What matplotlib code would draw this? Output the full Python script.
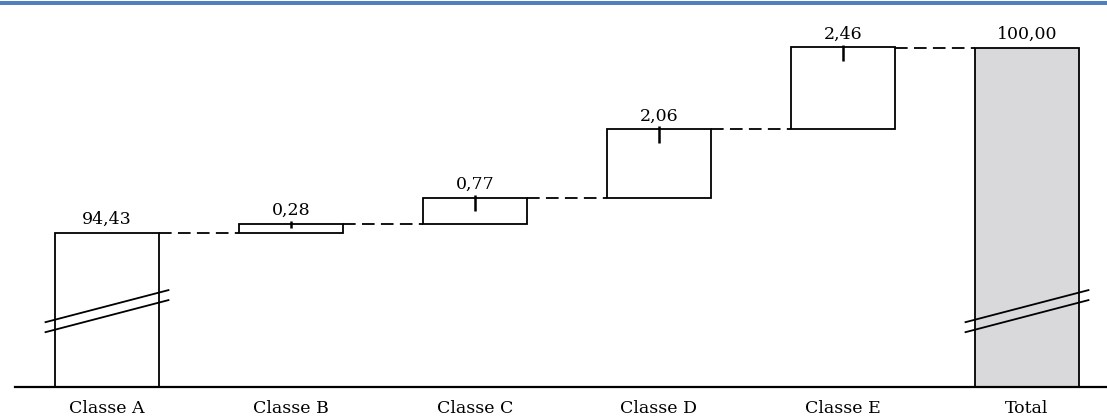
import matplotlib
matplotlib.use("Agg")
import matplotlib.pyplot as plt
import numpy as np

categories = ["Classe A", "Classe B", "Classe C", "Classe D", "Classe E", "Total"]
steps = [94.43, 0.28, 0.77, 2.06, 2.46]
total = 100.00

plt.rcParams["font.family"] = ["DejaVu Serif"]

W, H = 1107, 418
fig = plt.figure(figsize=(W / 100, H / 100), dpi=100)

# axes geometry in pixels
ax_left, ax_right = 15, 1107
ax_bottom, ax_top = 387, 10
ax = fig.add_axes([ax_left / W, (H - ax_bottom) / H,
                   (ax_right - ax_left) / W, (ax_bottom - ax_top) / H])

x = np.arange(len(categories))
width = 0.56
edge_lw = 1.3

# cumulative levels
ends = np.cumsum(steps)
starts = np.concatenate([[0.0], ends[:-1]])

# first class and total drawn from zero (clipped by the broken axis)
ax.bar(x[0], steps[0], width=width, color="white", edgecolor="black", linewidth=edge_lw, zorder=2)
ax.bar(x[-1], total, width=width, color="#d9d9db", edgecolor="black", linewidth=edge_lw, zorder=2)

# floating increments
for i in range(1, len(steps)):
    ax.bar(x[i], steps[i], bottom=starts[i], width=width, color="white",
           edgecolor="black", linewidth=edge_lw, zorder=2)
    # centre tick on top of each increment, never past the middle of the box
    tick_end = max(ends[i] - 0.42, ends[i] - steps[i] / 2)
    ax.plot([x[i], x[i]], [ends[i] + 0.09, tick_end], color="black",
            linewidth=1.8, zorder=3, solid_capstyle="butt")

# dashed connectors
levels = list(ends)
for i in range(len(categories) - 1):
    ax.plot([x[i] + width / 2, x[i + 1] - width / 2], [levels[i], levels[i]],
            color="black", linewidth=edge_lw, linestyle=(0, (7, 3.5)), zorder=1)

# value labels
label_vals = steps + [total]
label_tops = list(ends) + [total]
for xi, v, top in zip(x, label_vals, label_tops):
    ax.annotate(f"{v:.2f}".replace(".", ","), (xi, top), xytext=(0, 6.5),
                textcoords="offset points", ha="center", va="baseline", fontsize=12.5)

# axis break marks on the two full bars
for xi in (x[0], x[-1]):
    trans = ax.get_xaxis_transform()
    hw = 0.334
    for dy in (0.0, -10 / (ax_bottom - ax_top)):
        ax.plot([xi - hw, xi + hw], [0.172 + dy, 0.257 + dy], color="black",
                linewidth=1.3, transform=trans, zorder=4, clip_on=False)

ax.set_xlim(-0.5, (ax_right - ax_left) / 184 - 0.5)
px_per_unit = (233 - 47.5) / (total - steps[0])
ax.set_ylim(steps[0] - (ax_bottom - 233) / px_per_unit,
            total + (47.5 - ax_top) / px_per_unit)

ax.set_xticks(x)
ax.set_xticklabels(categories, fontsize=12.5)
ax.tick_params(axis="x", length=0, pad=9.5)
ax.set_yticks([])
for s in ("top", "right", "left"):
    ax.spines[s].set_visible(False)
ax.spines["bottom"].set_linewidth(1.6)

# blue rule across the top
fig.add_artist(plt.Rectangle((0, 1 - 5 / H), 1, 4 / H, transform=fig.transFigure,
                             color="#4f81bd", linewidth=0))

fig.savefig("out.png", dpi=100)
